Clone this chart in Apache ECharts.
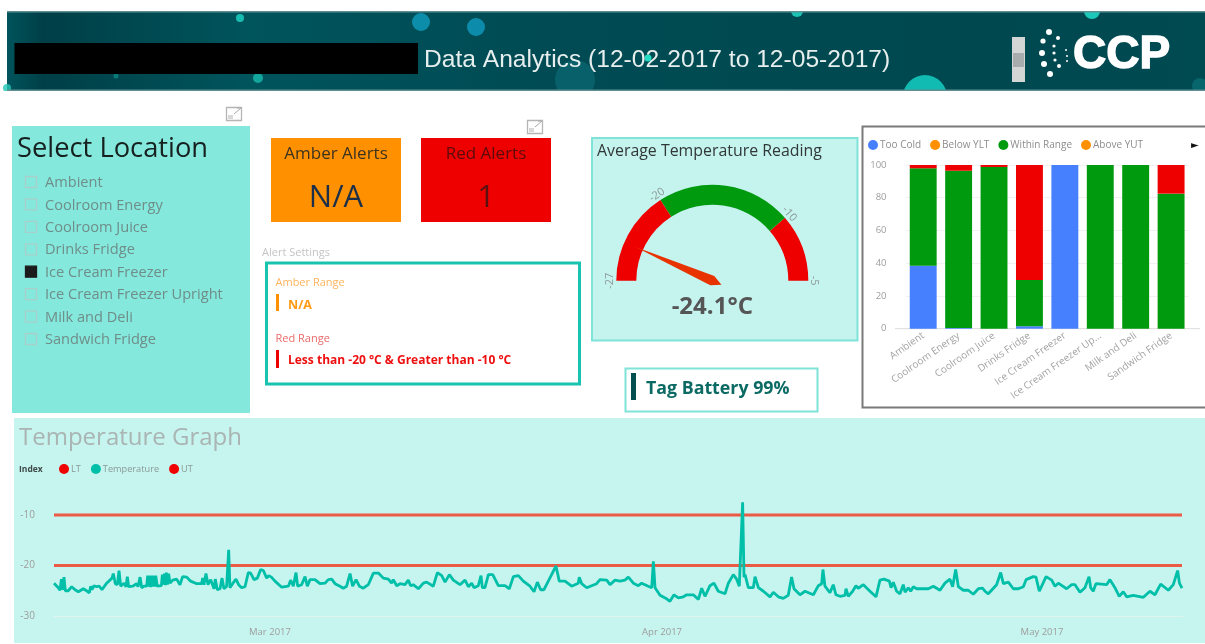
<!DOCTYPE html>
<html><head><meta charset="utf-8">
<script src="https://cdn.jsdelivr.net/npm/echarts@6/dist/echarts.min.js"></script>
<style>html,body{margin:0;padding:0;background:#fff}#c{width:1205px;height:644px;filter:blur(0.7px)}</style>
</head><body><div id="c"></div>
<script>
var locations=['Ambient','Coolroom Energy','Coolroom Juice','Drinks Fridge','Ice Cream Freezer','Ice Cream Freezer Upright','Milk and Deli','Sandwich Fridge'];
var barTicks=['Ambient','Coolroom Energy','Coolroom Juice','Drinks Fridge','Ice Cream Freezer','Ice Cream Freezer Up...','Milk and Deli','Sandwich Fridge'];
var tooCold=[38.5,0.5,0,1.5,100,0,0,0];
var belowYLT=[0,0,0,0,0,0,0,0];
var withinRange=[59.5,96,98.8,28.2,0,100,100,82.5];
var aboveYUT=[0,0,0,0,0,0,0,0];
var tooHot=[2,3.5,1.2,70.3,0,0,0,17.5];
var gaugeValue=-24.1;
var gaugeBands=[-27,-20,-10,-5];
var lowerLimit=-20, upperLimit=-10;
var monthLabels=['Mar 2017','Apr 2017','May 2017'];
var monthDays=[16.94,47.69,77.49];
var lastDay=88.55;
// [days since the first reading, temperature in °C]
var temperature=[[0,-23.5],[.34,-24.4],[.47,-24.9],[.58,-22.7],[.68,-24.8],[.78,-22.3],[.89,-25],[1.12,-25],[1.39,-24.2],[1.65,-24.8],[1.91,-25.2],[2.3,-24.6],[2.61,-25.1],[2.77,-25.4],[2.88,-24.1],[2.98,-24.8],[3.14,-24],[3.35,-24.2],[3.56,-24.1],[3.76,-24.8],[4.13,-23.5],[4.55,-22.5],[4.65,-21.6],[4.81,-23.6],[4.97,-23.8],[5.1,-21],[5.23,-24.1],[5.49,-23.5],[5.65,-24.2],[5.75,-22.2],[5.86,-24.2],[6.17,-24.1],[6.48,-23.6],[6.59,-24.2],[6.75,-22.3],[6.88,-24.4],[7.06,-24.1],[7.27,-24.1],[7.35,-22],[7.42,-24.2],[7.5,-22],[7.58,-24.3],[7.66,-22],[7.74,-24.2],[7.82,-22],[7.9,-24.2],[7.98,-22],[8.1,-24.1],[8.42,-24],[8.5,-21.8],[8.58,-23.8],[8.66,-21.6],[8.74,-23.9],[8.82,-21.4],[8.9,-23.8],[8.99,-21.6],[9.1,-23.5],[9.31,-22.9],[9.62,-22.7],[9.88,-23.8],[10.09,-22.2],[10.41,-22.3],[10.72,-23.1],[11.19,-23.6],[11.58,-23.6],[11.66,-22.5],[11.76,-23.8],[11.92,-21.6],[12.08,-23.8],[12.29,-22.8],[12.55,-24.6],[12.65,-22.7],[12.81,-24.8],[13.02,-24.6],[13.18,-22.5],[13.33,-24.6],[13.54,-24.1],[13.7,-16.9],[13.8,-24.4],[14.01,-23.6],[14.27,-22.7],[14.48,-23.8],[14.72,-24.4],[14.98,-24.2],[15.24,-21.4],[15.42,-21.5],[15.69,-22.8],[15.95,-22.5],[16.21,-20.8],[16.42,-21],[16.68,-22.5],[16.84,-22],[17.05,-22.3],[17.33,-23.1],[17.86,-24.3],[18.38,-24.1],[18.56,-22.9],[18.77,-24.1],[18.98,-21.4],[19.11,-24.1],[19.42,-23.8],[19.69,-22.2],[19.87,-24.1],[20.08,-22.8],[20.47,-22.8],[20.86,-23.6],[21.25,-23.5],[21.52,-22.8],[21.78,-22.7],[22.04,-23.6],[22.43,-24.1],[22.69,-24.5],[22.95,-24.1],[23.22,-21.6],[23.42,-24.1],[23.69,-22.8],[23.95,-24.1],[24.26,-24.5],[24.65,-23.8],[25.05,-21.5],[25.44,-21.5],[25.83,-22.5],[26.22,-22.7],[26.48,-23.5],[26.61,-22.8],[26.88,-24],[27.14,-23.6],[27.53,-23.8],[27.79,-22.9],[27.97,-24],[28.18,-23.8],[28.58,-24.6],[28.97,-23.5],[29.23,-23.3],[29.75,-24.1],[30.07,-21.4],[30.41,-22],[30.67,-23.3],[31.01,-21.8],[31.32,-22.9],[31.84,-23.8],[32.24,-22.9],[32.5,-24.2],[32.76,-23.5],[32.94,-24.4],[33.28,-24],[33.49,-22],[33.6,-24.4],[33.8,-24.4],[34.07,-21.8],[34.41,-21.8],[34.85,-24],[35.37,-24],[35.71,-24.6],[36.03,-22.2],[36.42,-22],[36.81,-23.1],[37.33,-24.1],[37.65,-25.2],[37.91,-23.3],[38.17,-24.8],[38.43,-24.8],[38.77,-23.1],[39.03,-21.8],[39.37,-20.1],[39.63,-23.1],[40.08,-23.1],[40.6,-24.1],[41.12,-23.5],[41.2,-22.3],[41.39,-23.6],[41.78,-24.4],[42.17,-24],[42.56,-23.6],[42.82,-22.8],[43.35,-22.9],[43.61,-23.8],[44,-22.9],[44.39,-23.1],[44.78,-22.9],[45.05,-22.3],[45.44,-23.5],[45.83,-24],[46.09,-23.5],[46.61,-24.1],[46.88,-24.4],[47.01,-19.2],[47.14,-24.4],[47.53,-25.9],[48.05,-26.6],[48.31,-27.1],[48.63,-25.8],[48.97,-26.4],[49.36,-26.2],[49.62,-25.8],[50.14,-25.8],[50.54,-26.7],[50.8,-24.5],[51.06,-26.1],[51.45,-24],[51.76,-23.5],[52.1,-25.1],[52.63,-25.6],[52.89,-23.5],[53.28,-21.8],[53.54,-22.7],[53.75,-24.1],[54.01,-7.5],[54.12,-22.3],[54.2,-21.8],[54.46,-24.4],[54.85,-24.4],[54.98,-22.2],[55.25,-24.4],[55.64,-25.1],[56.16,-26.2],[56.42,-25.3],[56.81,-26.2],[57.2,-26.5],[57.59,-25.9],[57.85,-22.3],[58.04,-24.6],[58.51,-25.8],[58.9,-25.1],[59.56,-25.8],[59.95,-24],[60.21,-23.6],[60.31,-20.8],[60.47,-24.1],[60.86,-25.4],[61.12,-23.8],[61.33,-25.8],[61.65,-26.1],[62.04,-25.9],[62.12,-24.6],[62.3,-26.1],[62.64,-25.1],[62.9,-24],[63.08,-24.5],[63.48,-23.8],[64,-25.1],[64.47,-26.2],[64.78,-22.9],[65.1,-22.7],[65.52,-23.1],[65.65,-24.4],[65.83,-23.3],[66.09,-25.1],[66.35,-25.6],[66.61,-23.8],[66.75,-25.3],[67.01,-24.4],[67.19,-25.1],[67.4,-24.2],[67.66,-24.6],[68.58,-24.6],[68.97,-24.1],[69.49,-24.9],[69.88,-23.5],[70.27,-22.7],[70.48,-24.2],[70.72,-20.8],[70.93,-24.2],[71.32,-24.9],[71.71,-24.9],[72.1,-25.7],[72.5,-24.6],[72.84,-24.5],[73.02,-25.1],[73.28,-25.6],[73.93,-23.8],[74.25,-21.4],[74.46,-23.6],[74.85,-23.3],[75.24,-24.6],[75.64,-24.6],[76.03,-24.2],[76.24,-22.8],[76.81,-22.2],[77.02,-22.3],[77.28,-25.1],[77.81,-22.2],[78.25,-22.9],[78.51,-24.1],[78.77,-23.5],[79.42,-24.6],[79.82,-23.8],[80.08,-23.8],[80.47,-25.3],[80.86,-24.4],[81.18,-22.2],[81.31,-24.4],[81.51,-25.1],[81.72,-23.6],[82.56,-23.8],[82.82,-22.8],[83.21,-24.4],[83.55,-26.1],[83.87,-25.2],[84.13,-26.2],[84.65,-25.9],[85.44,-26.3],[85.96,-25.1],[86.35,-25.8],[86.8,-23.7],[87.4,-24.9],[87.79,-23.8],[88.13,-21],[88.27,-23.5],[88.47,-24.5]];

var SANS='"Open Sans","Noto Sans",sans-serif', ARIAL='"Liberation Sans",Arial,sans-serif';
function box(x,y,w,h,fill,stroke,lw,z){return {type:'rect',z:z||0,shape:{x:x,y:y,width:w,height:h},style:{fill:fill,stroke:stroke||null,lineWidth:lw||0}};}
function txt(x,y,s,size,fill,o){o=o||{};return {type:'text',z:1,x:x,y:y+(o.family?0:1),style:{text:s,fill:fill,font:(o.weight||'normal')+' '+size+'px '+(o.family||SANS),textAlign:o.align||'left',textVerticalAlign:'middle',stroke:o.stroke||null,lineWidth:o.stroke?1.4:0}};}
function dot(x,y,r,fill,op,z){return {type:'circle',z:z||0,shape:{cx:x,cy:y,r:r},style:{fill:fill,opacity:op==null?1:op}};}
function expandIcon(x,y){return [box(x+.5,y+.5,15,13,'#fff','#b5b5b5',1.3),{type:'polyline',z:1,shape:{points:[[x+8,y+7],[x+15,y+1],[x+11,y+1]]},style:{stroke:'#aaa',fill:null,lineWidth:1}},box(x+2,y+8,5,4,'#d8d8d8')];}

var g=[];
// header
g.push({type:'rect',z:0,shape:{x:7,y:11,width:1198,height:80},style:{fill:new echarts.graphic.LinearGradient(0,0,1,0,[{offset:0,color:'#00545c'},{offset:.03,color:'#003f47'},{offset:.2,color:'#00545c'},{offset:.45,color:'#004b54'},{offset:.8,color:'#00484f'},{offset:1,color:'#004a52'}])}});
[[240,18,4,'#19c9b9',.9],[421,22,9,'#0d93b4',.9],[476,27,9,'#0d93b4',.9],[258,78,5,'#19c9b9',.7],[116,76,2.5,'#19c9b9',.4],[648,58,3.5,'#22dcc4',1],[797,11,6,'#1ed0c0',.9],[1092,11,8,'#1ed0c0',.95],[925,97,22,'#14c8bc',.9],[575,80,20,'#0a6a74',.7],[7,88,4,'#22c8b8',.8],[1200,86,8,'#0a7078',.7]].forEach(function(d){g.push(dot(d[0],d[1],d[2],d[3],d[4],0));});
g.push(box(0,0,1205,11,'#fff',null,0,0),box(0,91,1205,32,'#fff',null,0,0));
g.push(box(7,11,1198,1.5,'#5f8f92',null,0,0),box(7,89.5,1198,1.5,'#5f8f92',null,0,0));
g.push(box(14.5,43,403.5,31,'#000',null,0,1));
g.push(txt(424,60,'Data Analytics (12-02-2017 to 12-05-2017)',24.6,'#e6eeee',{family:ARIAL}));
g.push(box(1012,37,13,45,'#d4d6d6',null,0,1),box(1013,53,11,14,'#a9acac',null,0,1));
[[1049,32,3],[1043,41,2.6],[1058,38,2],[1042,53,3],[1044,64,3],[1059,66,2],[1050,74,3],[1054,46,1.6],[1054,53,1.6],[1055,60,1.6],[1066,50,1],[1067,56,1],[1067,61,1]].forEach(function(d){g.push(dot(d[0],d[1],d[2],'#fff',1,1));});
g.push(txt(1073,55,'CCP',46,'#fff',{family:ARIAL,weight:'bold',stroke:'#fff'}));
// location slicer
g=g.concat(expandIcon(226,107),expandIcon(527,120));
g.push(box(12,126,238,287,'#85e8dc'));
g.push(txt(17,148,'Select Location',27.3,'#15201f'));
locations.forEach(function(n,i){var y=182+i*22.43,on=n==='Ice Cream Freezer';
  g.push(box(25.5,y-5.5,11,11,on?'#1b1b1b':'none',on?'#1b1b1b':'#a8cfc9',1.3,1));
  g.push(txt(45,y,n,14.6,'#6f8d89'));});
// alert cards
g.push(box(271,138,130,84,'#ff9100'),box(421,138,130,84,'#ee0000'));
g.push(txt(336,153,'Amber Alerts',17,'#3c3220',{align:'center'}),txt(336,197,'N/A',31,'#1c2f48',{align:'center'}));
g.push(txt(486,153,'Red Alerts',17,'#5c0b0b',{align:'center'}),txt(486,197,'1',31,'#5c1010',{align:'center'}));
g.push(txt(262,252,'Alert Settings',11,'#c4c4c4'));
g.push(box(266.5,263,313,121,'#fff','#18c4b0',3));
g.push(txt(275.5,282,'Amber Range',11,'#ffb45e'),box(276,294,3,17,'#ff9100',null,0,1),txt(288,304,'N/A',12.5,'#ff9a14',{weight:'bold'}));
g.push(txt(275.5,338,'Red Range',11,'#ea6a6a'),box(276,350,3,18,'#ee0000',null,0,1),txt(288,360,'Less than -20 °C & Greater than -10 °C',12,'#ee1010',{weight:'bold'}));
// gauge card
g.push(box(592,138,265.5,202.5,'#c5f3ee','#7fe3d8',2));
g.push(txt(597,150,'Average Temperature Reading',15.9,'#303838'));
// battery
g.push(box(625.5,368.5,192,43,'#fff','#7fe3d8',2),box(631,373,5,27,'#064f50',null,0,1));
g.push(txt(646,388,'Tag Battery 99%',17.8,'#0b6a63',{weight:'bold'}));
// bar card
g.push(box(862.5,126.5,345,281,'#fff','#7a7a7a',2));
g.push(txt(1191,145,'►',10,'#111',{family:'"DejaVu Sans"'}));
g.push({type:'line',z:1,shape:{x1:895,y1:328.7,x2:1200,y2:328.7},style:{stroke:'#dcdcdc',lineWidth:1}});
// temperature panel
g.push(box(14,418,1191,225,'#c6f4ee'));
g.push(txt(19,437,'Temperature Graph',24,'#a9b4b3'));
g.push(txt(19,469,'Index',8.5,'#3d4a49',{weight:'bold'}));

function stack(name,data,color){return {name:name,type:'bar',stack:'s',data:data,barWidth:'76%',itemStyle:{color:color},xAxisIndex:0,yAxisIndex:0};}
function limitLine(name,v){return {name:name,type:'line',xAxisIndex:1,yAxisIndex:1,symbol:'none',data:[[0,v],[temperature[temperature.length-1][0],v]],lineStyle:{color:'#ea5a44',width:2.8},itemStyle:{color:'#ea5a44'},z:3};}
var lab='#9d9d9d';
var chart=echarts.init(document.getElementById('c'),null,{renderer:'canvas'});
chart.setOption({
 animation:false,
 graphic:{elements:g},
 textStyle:{fontFamily:SANS},
 legend:[
  {left:868,top:140,itemWidth:10,itemHeight:10,itemGap:9,icon:'circle',selectedMode:false,padding:0,textStyle:{color:'#8d8d8d',fontSize:10,padding:[0,0,0,-3]},data:['Too Cold','Below YLT','Within Range','Above YUT']},
  {left:59,top:464,itemWidth:10,itemHeight:10,itemGap:10,icon:'circle',selectedMode:false,padding:0,textStyle:{color:'#8a9a98',fontSize:9.2,padding:[0,0,0,-3]},data:[{name:'LT',itemStyle:{color:'#f00000'}},{name:'Temperature',itemStyle:{color:'#00bfa8'}},{name:'UT',itemStyle:{color:'#f00000'}}]}
 ],
 grid:[
  {left:905.5,top:165,width:283.3,height:163.7},
  {left:54,top:464.5,width:1129,height:151.5}
 ],
 xAxis:[
  {type:'category',gridIndex:0,data:barTicks,axisLine:{show:false},axisTick:{show:false},axisLabel:{rotate:35,fontSize:10,color:'#a3a3a3',interval:0,margin:6}},
  {type:'value',gridIndex:1,min:0,max:lastDay,axisLine:{show:false},axisTick:{show:false},splitLine:{show:false},
   axisLabel:{customValues:monthDays,fontSize:9.5,color:lab,margin:11,formatter:function(v){return monthLabels[monthDays.indexOf(v)];}}}
 ],
 yAxis:[
  {type:'value',gridIndex:0,min:0,max:100,interval:20,axisLine:{show:false},axisTick:{show:false},axisLabel:{fontSize:9.5,color:lab,margin:19},splitLine:{lineStyle:{color:'#f1f1f1'}}},
  {type:'value',gridIndex:1,min:-30,max:0,interval:10,axisLine:{show:false},axisTick:{show:false},axisLabel:{fontSize:10,color:lab,margin:19,showMaxLabel:false},splitLine:{showMaxLine:false,lineStyle:{color:'#dff3ef'}}}
 ],
 series:[
  stack('Too Cold',tooCold,'#4680ff'),
  stack('Below YLT',belowYLT,'#ff9100'),
  stack('Within Range',withinRange,'#009a0f'),
  stack('Above YUT',aboveYUT,'#ff9100'),
  stack('Too Hot',tooHot,'#ee0000'),
  limitLine('LT',lowerLimit),
  {name:'Temperature',type:'line',xAxisIndex:1,yAxisIndex:1,symbol:'none',data:temperature,lineStyle:{color:'#00bfa8',width:2.8},itemStyle:{color:'#00bfa8'},z:4},
  limitLine('UT',upperLimit),
  {type:'gauge',center:[712.3,280.7],radius:96,startAngle:180,endAngle:0,min:gaugeBands[0],max:gaugeBands[3],splitNumber:22,
   axisLine:{lineStyle:{width:20,color:[[(gaugeBands[1]-gaugeBands[0])/(gaugeBands[3]-gaugeBands[0]),'#ee0000'],[(gaugeBands[2]-gaugeBands[0])/(gaugeBands[3]-gaugeBands[0]),'#009a0f'],[1,'#ee0000']]}},
   axisTick:{show:false},splitLine:{show:false,length:0,distance:0},
   axisLabel:{distance:-6,fontSize:11,color:'#8d9a98',rotate:'tangential',formatter:function(v){return gaugeBands.indexOf(Math.round(v))>=0?String(Math.round(v)):'';}},
   pointer:{length:'88%',width:5,itemStyle:{color:'#e83300'}},anchor:{show:false},title:{show:false},
   detail:{offsetCenter:[0,26],fontSize:24,fontWeight:'bold',color:'#555',fontFamily:SANS,formatter:'{value}°C',valueAnimation:false},
   data:[{value:gaugeValue}]}
 ]
});
</script></body></html>
